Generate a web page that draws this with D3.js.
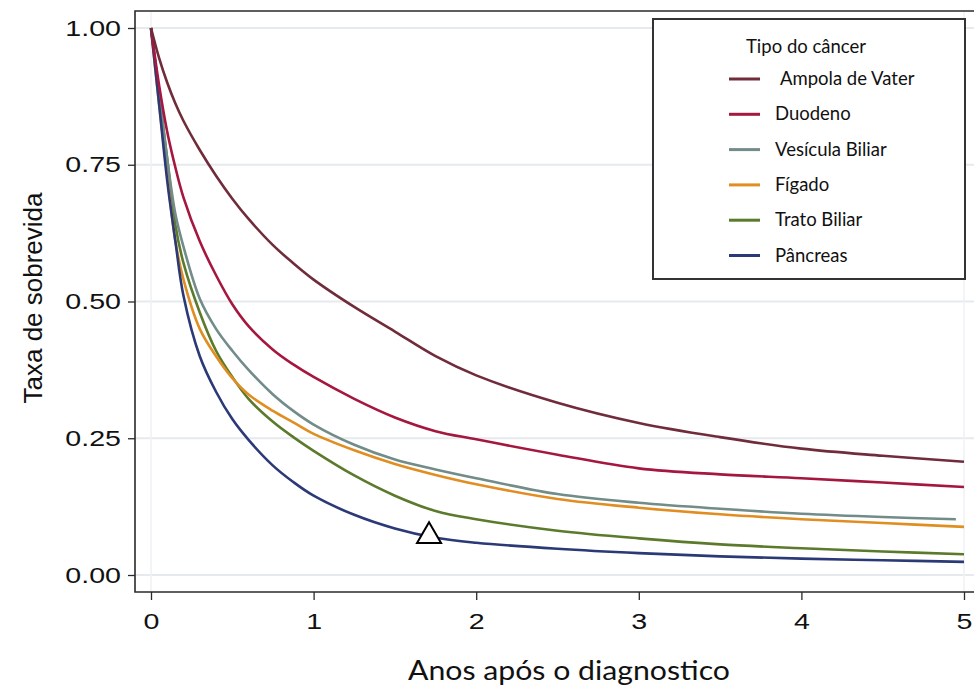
<!DOCTYPE html>
<html>
<head>
<meta charset="utf-8">
<script src="https://cdn.jsdelivr.net/npm/d3@7"></script>
<style>
  body { margin: 0; background: #fff; }
  svg { display: block; }
</style>
</head>
<body>
<svg id="chart" width="974" height="688"></svg>
<script>
// anos apos o diagnostico (eixo x)
const anos = [0, 0.05, 0.1, 0.15, 0.2, 0.3, 0.4, 0.5, 0.6, 0.75, 0.875, 1, 1.25, 1.5, 1.75, 2, 2.5, 3, 3.5, 4, 4.5, 5];
const anosVesicula = [0, 0.05, 0.1, 0.15, 0.2, 0.3, 0.4, 0.5, 0.6, 0.75, 0.875, 1, 1.25, 1.5, 1.75, 2, 2.5, 3, 3.5, 4, 4.5, 4.95];

// taxa de sobrevida por tipo de cancer
const ampola = [1, 0.945, 0.9, 0.862, 0.83, 0.777, 0.73, 0.688, 0.651, 0.603, 0.57, 0.54, 0.49, 0.445, 0.40, 0.365, 0.315, 0.278, 0.252, 0.231, 0.218, 0.207];
const duodeno = [1, 0.895, 0.81, 0.745, 0.69, 0.61, 0.548, 0.495, 0.455, 0.412, 0.385, 0.362, 0.322, 0.288, 0.263, 0.248, 0.22, 0.195, 0.184, 0.177, 0.169, 0.161];
const vesicula = [1, 0.88, 0.76, 0.66, 0.60, 0.505, 0.45, 0.41, 0.375, 0.33, 0.3, 0.275, 0.238, 0.211, 0.193, 0.177, 0.148, 0.132, 0.121, 0.112, 0.106, 0.102];
const figado = [1, 0.86, 0.73, 0.61, 0.54, 0.45, 0.40, 0.36, 0.33, 0.30, 0.279, 0.258, 0.228, 0.203, 0.183, 0.166, 0.139, 0.123, 0.111, 0.102, 0.095, 0.088];
const trato = [1, 0.88, 0.76, 0.64, 0.57, 0.48, 0.41, 0.362, 0.322, 0.28, 0.252, 0.227, 0.182, 0.145, 0.117, 0.102, 0.081, 0.067, 0.056, 0.049, 0.043, 0.038];
const pancreas = [1, 0.86, 0.72, 0.61, 0.51, 0.40, 0.335, 0.285, 0.247, 0.2, 0.17, 0.145, 0.11, 0.085, 0.068, 0.059, 0.048, 0.04, 0.034, 0.03, 0.027, 0.024];

const legendLabels = ['Ampola de Vater', 'Duodeno', 'Vesícula Biliar', 'Fígado', 'Trato Biliar', 'Pâncreas'];
const xTicks = [0, 1, 2, 3, 4, 5];
const yTicks = [0, 0.25, 0.5, 0.75, 1];
const marcador = {t: 1.71, v: 0.071};

const series = [
  {name: legendLabels[4], x: anos, y: trato, color: '#5b7a2c'},
  {name: legendLabels[3], x: anos, y: figado, color: '#e08e22'},
  {name: legendLabels[2], x: anosVesicula, y: vesicula, color: '#718c89'},
  {name: legendLabels[5], x: anos, y: pancreas, color: '#2b3977'},
  {name: legendLabels[1], x: anos, y: duodeno, color: '#a5173f'},
  {name: legendLabels[0], x: anos, y: ampola, color: '#702c3b'},
];
const legendColors = ['#702c3b', '#a5173f', '#718c89', '#e08e22', '#5b7a2c', '#2b3977'];

const svg = d3.select('#chart');
const x = d3.scaleLinear().domain([0, 5]).range([151, 964]);
const y = d3.scaleLinear().domain([0, 1]).range([575, 28]);
const frame = {left: 135, top: 11, bottom: 592, right: 990};
const armFont = '"Liberation Sans", Arial, sans-serif';
const calFont = 'Lato, "Open Sans", sans-serif';

// grid
svg.append('g').selectAll('line').data(yTicks).enter().append('line')
    .attr('x1', frame.left).attr('x2', frame.right)
    .attr('y1', (d) => y(d)).attr('y2', (d) => y(d))
    .style('stroke', '#e6eaee').style('stroke-width', 2);
svg.append('g').selectAll('line').data([0, 5]).enter().append('line')
    .attr('y1', frame.top).attr('y2', frame.bottom)
    .attr('x1', (d) => x(d)).attr('x2', (d) => x(d))
    .style('stroke', '#eef1f4').style('stroke-width', 1.5);

// curves
const line = d3.line().curve(d3.curveCatmullRom.alpha(0.5));
svg.append('g').attr('name', 'curvas').selectAll('path').data(series).enter().append('path')
    .attr('d', (s) => line(s.x.map((t, i) => [x(t), y(s.y[i])])))
    .attr('fill', 'none')
    .attr('stroke', (s) => s.color)
    .attr('stroke-width', 2.6)
    .attr('stroke-linejoin', 'round');

// frame
svg.append('path')
    .attr('d', `M${frame.right},${frame.top}H${frame.left}V${frame.bottom}H${frame.right}`)
    .attr('fill', 'none').attr('stroke', '#2a2a2a').attr('stroke-width', 1.6);

// y axis
const yAxis = svg.append('g').attr('transform', `translate(${frame.left},0)`)
    .call(d3.axisLeft(y).tickValues(yTicks).tickFormat(d3.format('.2f')).tickSize(7).tickPadding(7));
yAxis.select('.domain').remove();
yAxis.selectAll('line').attr('stroke', '#2a2a2a').attr('stroke-width', 1.3);
yAxis.selectAll('text')
    .style('font-family', armFont)
    .style('font-size', '22px').attr('fill', '#111')
    .attr('transform', 'translate(-14,0) scale(1.3,1) translate(14,0)');

// x axis
const xAxis = svg.append('g').attr('transform', `translate(0,${frame.bottom})`)
    .call(d3.axisBottom(x).tickValues(xTicks).tickFormat(d3.format('d')).tickSize(8));
xAxis.select('.domain').remove();
xAxis.selectAll('line').attr('stroke', '#2a2a2a').attr('stroke-width', 1.3);
xAxis.selectAll('text')
    .attr('y', 37).attr('dy', null)
    .style('font-family', armFont)
    .style('font-size', '22px').attr('fill', '#111')
    .attr('transform', 'scale(1.3,1)');

// axis titles
svg.append('text')
    .attr('transform', 'translate(42,298) rotate(-90)')
    .attr('text-anchor', 'middle')
    .style('font-family', armFont)
    .style('font-size', '26px').attr('fill', '#111')
    .text('Taxa de sobrevida');
svg.append('text')
    .attr('x', 408).attr('y', 680)
    .attr('textLength', 322).attr('lengthAdjust', 'spacingAndGlyphs')
    .style('font-family', calFont)
    .style('font-size', '27px').attr('fill', '#111')
    .text('Anos após o diagnostico');

// marker
svg.append('path')
    .attr('d', d3.symbol().type(d3.symbolTriangle).size(250)())
    .attr('transform', `translate(${x(marcador.t)},${y(marcador.v)})`)
    .attr('fill', '#fff').attr('stroke', '#000').attr('stroke-width', 2);

// legend
const legend = svg.append('g').attr('name', 'legenda');
legend.append('rect')
    .attr('x', 653).attr('y', 19).attr('width', 312).attr('height', 260)
    .attr('fill', '#fff').attr('stroke', '#333').attr('stroke-width', 2);
legend.append('text')
    .attr('x', 746).attr('y', 53)
    .style('font-family', calFont)
    .style('font-size', '18.5px').attr('fill', '#111')
    .text('Tipo do câncer');
const rows = legend.selectAll('g.row').data(legendLabels).enter().append('g')
    .attr('class', 'row')
    .attr('transform', (d, i) => `translate(0,${79 + i * 35.3})`);
rows.append('line')
    .attr('x1', 729).attr('x2', 760).attr('y1', 0).attr('y2', 0)
    .attr('stroke', (d, i) => legendColors[i]).attr('stroke-width', 3);
rows.append('text')
    .attr('x', (d, i) => i === 0 ? 780 : 775).attr('y', 6)
    .style('font-family', calFont)
    .style('font-size', '18.5px').attr('fill', '#111')
    .text((d) => d);
</script>
</body>
</html>
